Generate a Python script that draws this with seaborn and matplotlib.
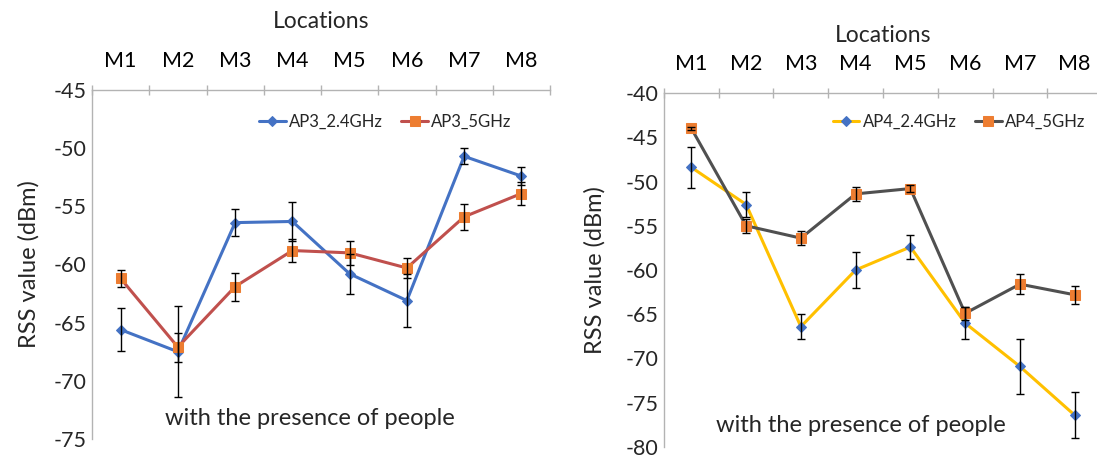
import numpy as np
import pandas as pd
import matplotlib
matplotlib.use("Agg")
import matplotlib.pyplot as plt
import seaborn as sns

# ---------------- data ----------------
locations = ["M1", "M2", "M3", "M4", "M5", "M6", "M7", "M8"]

ap3_24_mean = [-65.6, -67.5, -56.4, -56.3, -60.8, -63.1, -50.7, -52.4]
ap3_24_err = [1.85, 3.9, 1.15, 1.7, 1.7, 2.3, 0.7, 0.8]
ap3_5_mean = [-61.2, -67.1, -61.9, -58.8, -59.0, -60.3, -55.9, -53.9]
ap3_5_err = [0.7, 1.25, 1.2, 1.0, 1.05, 0.85, 1.1, 1.0]

ap4_24_mean = [-48.4, -52.6, -66.4, -60.0, -57.4, -66.0, -70.9, -76.4]
ap4_24_err = [2.3, 1.4, 1.4, 2.0, 1.4, 1.85, 3.1, 2.6]
ap4_5_mean = [-44.0, -55.0, -56.4, -51.4, -50.8, -64.9, -61.6, -62.8]
ap4_5_err = [0.15, 0.8, 0.8, 0.75, 0.4, 0.7, 1.15, 1.0]

series_left = ["AP3_2.4GHz", "AP3_5GHz"]
series_right = ["AP4_2.4GHz", "AP4_5GHz"]

annotation = "with the presence of people"
ylabel = "RSS value (dBm)"
xlabel = "Locations"

# ---------------- style ----------------
sns.set_theme(style="white")
plt.rcParams["font.family"] = ["Lato", "DejaVu Sans"]

BLUE = "#4472C4"
ORANGE = "#ED7D31"
RED = "#C0504D"
YELLOW = "#FFC000"
DARK = "#505050"
SPINE = "#B3B3B3"

fig = plt.figure(figsize=(10.97, 4.57), dpi=100)
axL = fig.add_axes([92 / 1097, 1 - 439 / 457, 458 / 1097, 349 / 457])
axR = fig.add_axes([664 / 1097, 1 - 447 / 457, 438 / 1097, 354 / 457])


def make_df(names, means, errs):
    rows = []
    for name, m, e in zip(names, means, errs):
        for i, (loc, v, ee) in enumerate(zip(locations, m, e)):
            rows.append({"pos": i, "loc": loc, "series": name, "value": v, "err": ee})
    return pd.DataFrame(rows)


def draw(ax, df, names, line_colors, marker_colors, markers, msizes, ylim, yticks,
         leg_anchor, text_xy, tick_pad, label_pad, ylabel_pad):
    for name, lc, mc, mk, ms in zip(names, line_colors, marker_colors, markers, msizes):
        sub = df[df["series"] == name]
        sns.lineplot(data=sub, x="pos", y="value", ax=ax, color=lc, lw=2.2,
                     marker=mk, markersize=ms, markerfacecolor=mc,
                     markeredgecolor=mc, label=name, zorder=3)
        ax.errorbar(sub["pos"], sub["value"], yerr=sub["err"], fmt="none",
                    ecolor="black", elinewidth=1.0, capsize=3, capthick=1.0, zorder=4)
    ax.set_xlim(-0.5, len(locations) - 0.5)
    ax.set_ylim(*ylim)
    ax.set_yticks(yticks)
    ax.set_yticklabels([f"{t:d}" for t in yticks])
    ax.xaxis.tick_top()
    ax.xaxis.set_label_position("top")
    ax.set_xticks(range(len(locations)))
    ax.set_xticklabels(locations)
    ax.set_xticks(np.arange(-0.5, len(locations), 1.0), minor=True)
    ax.tick_params(axis="x", which="major", length=0, pad=tick_pad, labelsize=15.5,
                   colors="black")
    ax.tick_params(axis="x", which="minor", length=7, direction="inout",
                   color=SPINE, width=1)
    ax.tick_params(axis="y", which="major", length=0, pad=4, labelsize=15.5)
    ax.set_xlabel(xlabel, fontsize=16.5, labelpad=label_pad)
    ax.set_ylabel(ylabel, fontsize=17, labelpad=ylabel_pad)
    for s in ["right", "bottom"]:
        ax.spines[s].set_visible(False)
    for s in ["left", "top"]:
        ax.spines[s].set_color(SPINE)
        ax.spines[s].set_linewidth(1.0)
    ax.grid(False)
    ax.legend(loc="upper left", bbox_to_anchor=leg_anchor, ncol=2,
              frameon=False, fontsize=12, handlelength=1.6,
              handletextpad=0.2, columnspacing=1.1, borderaxespad=0)
    ax.text(text_xy[0], text_xy[1], annotation, transform=ax.transAxes,
            ha="center", va="center", fontsize=17)


dfL = make_df(series_left, [ap3_24_mean, ap3_5_mean], [ap3_24_err, ap3_5_err])
dfR = make_df(series_right, [ap4_24_mean, ap4_5_mean], [ap4_24_err, ap4_5_err])

draw(axL, dfL, series_left, [BLUE, RED], [BLUE, ORANGE], ["D", "s"], [5, 7],
     (-75, -45), list(range(-75, -44, 5)), (0.35, 0.95), (0.475, 0.06), 14, 16, 10)
draw(axR, dfR, series_right, [YELLOW, DARK], [BLUE, ORANGE], ["D", "s"], [5, 7],
     (-80, -40), list(range(-80, -39, 5)), (0.37, 0.96), (0.45, 0.06), 14, 8, 14)

fig.savefig("out.png", dpi=100)
